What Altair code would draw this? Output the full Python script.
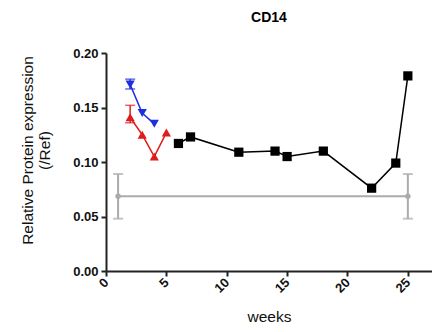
import altair as alt
import pandas as pd

# Data
blue_weeks = [2, 3, 4]
blue_vals = [0.171, 0.145, 0.135]
blue_err_weeks = [2]
blue_lo = [0.167]
blue_hi = [0.176]

red_weeks = [2, 3, 4, 5]
red_vals = [0.141, 0.125, 0.105, 0.127]
red_err_weeks = [2]
red_lo = [0.136]
red_hi = [0.152]

black_weeks = [6, 7, 11, 14, 15, 18, 22, 24, 25]
black_vals = [0.117, 0.123, 0.109, 0.110, 0.105, 0.110, 0.076, 0.099, 0.179]

ref_weeks = [1, 25]
ref_vals = [0.0685, 0.0685]
ref_lo = [0.048, 0.048]
ref_hi = [0.089, 0.089]

x_ticks = [0, 5, 10, 15, 20, 25]
y_ticks = [0.00, 0.05, 0.10, 0.15, 0.20]

FONT = "Liberation Sans"

xs = alt.Scale(domain=[0, 27], nice=False, zero=False)
ys = alt.Scale(domain=[0, 0.20], nice=False)

xenc = alt.X("w:Q", scale=xs,
             axis=alt.Axis(values=x_ticks, title="weeks", labelAngle=315,
                           labelAlign="right", labelBaseline="middle",
                           format="d", grid=False))
yenc = alt.Y("v:Q", scale=ys,
             axis=alt.Axis(values=y_ticks, title=["Relative Protein expression", "(/Ref)"],
                           format=".2f", grid=False))


def series(weeks, vals, color, shape, size, err_weeks=None, lo=None, hi=None, sw=1.5):
    df = pd.DataFrame({"w": weeks, "v": vals})
    line = alt.Chart(df).mark_line(color=color, strokeWidth=sw).encode(x=xenc, y=yenc)
    pts = alt.Chart(df).mark_point(color=color, shape=shape, filled=True, size=size,
                                   opacity=1).encode(x=xenc, y=yenc)
    layers = [line, pts]
    if err_weeks:
        edf = pd.DataFrame({"w": err_weeks, "lo": lo, "hi": hi})
        rule = alt.Chart(edf).mark_rule(color=color, strokeWidth=sw).encode(
            x=alt.X("w:Q", scale=xs), y=alt.Y("lo:Q", scale=ys), y2="hi:Q")
        cap_lo = alt.Chart(edf).mark_tick(color=color, orient="horizontal", size=10,
                                          thickness=sw).encode(
            x=alt.X("w:Q", scale=xs), y=alt.Y("lo:Q", scale=ys))
        cap_hi = alt.Chart(edf).mark_tick(color=color, orient="horizontal", size=10,
                                          thickness=sw).encode(
            x=alt.X("w:Q", scale=xs), y=alt.Y("hi:Q", scale=ys))
        layers = [rule, cap_lo, cap_hi] + layers
    return layers


layers = []
layers += series(ref_weeks, ref_vals, "#ababab", "circle", 30, ref_weeks, ref_lo, ref_hi, sw=2)
layers += series(blue_weeks, blue_vals, "#1f2fe0", "triangle-down", 85,
                 blue_err_weeks, blue_lo, blue_hi)
layers += series(red_weeks, red_vals, "#e01b1b", "triangle-up", 85,
                 red_err_weeks, red_lo, red_hi)
layers += series(black_weeks, black_vals, "#000000", "square", 85)

chart = alt.layer(*layers).properties(
    width=326, height=218,
    title=alt.TitleParams("CD14", font=FONT, fontSize=14, fontWeight="bold",
                          anchor="middle", offset=22),
    autosize=alt.AutoSizeParams(type="none"),
    padding={"left": 106, "top": 53, "right": 0, "bottom": 61},
).configure_view(stroke=None).configure_axis(
    domainColor="#222222", domainWidth=2, tickColor="#222222", tickWidth=2,
    tickSize=5, labelFont=FONT, labelFontSize=13, labelFontWeight="bold",
    labelColor="#111111", titleFont=FONT, titleFontSize=15.5, titleFontWeight="normal",
    titleColor="#111111",
).configure_axisY(titlePadding=20, labelPadding=3, titleY=97).configure_axisX(
    titlePadding=14, labelPadding=4)

chart.save("out.html", embed_options={"renderer": "svg", "actions": False})
